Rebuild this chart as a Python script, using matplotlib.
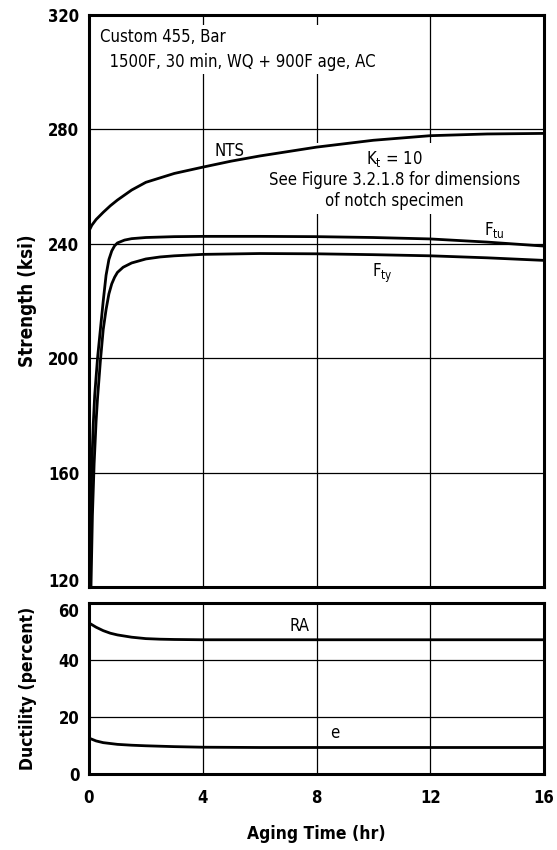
import matplotlib
matplotlib.use("Agg")
import matplotlib.pyplot as plt
from matplotlib import font_manager as fm

entries = fm.fontManager.ttflist
names = {f.name for f in entries}
STRETCH = "normal"
if "Liberation Sans Narrow" in names:
    FONT = "Liberation Sans Narrow"
elif any(f.name == "DejaVu Sans" and f.stretch in ("condensed", 300) for f in entries):
    FONT = "DejaVu Sans"
    STRETCH = "condensed"
else:
    FONT = "Liberation Sans"
plt.rcParams["font.family"] = [FONT, "DejaVu Sans"]
plt.rcParams["font.stretch"] = STRETCH
plt.rcParams["mathtext.fontset"] = "custom"
plt.rcParams["mathtext.rm"] = FONT
plt.rcParams["mathtext.it"] = FONT
plt.rcParams["mathtext.default"] = "rm"

# ---- data ----
nts_t = [0.0, 0.1, 0.25, 0.5, 0.75, 1.0, 1.5, 2.0, 3.0, 4.0, 5.0, 6.0, 8.0, 10.0, 12.0, 14.0, 16.0]
nts_v = [244.5, 246.5, 248.5, 251.0, 253.3, 255.3, 258.8, 261.5, 264.6, 266.8, 268.9, 270.7, 273.8, 276.2, 277.8, 278.4, 278.6]

ftu_t = [0.03, 0.06, 0.1, 0.15, 0.2, 0.3, 0.4, 0.5, 0.6, 0.7, 0.8, 0.9, 1.0, 1.25, 1.5, 2.0, 3.0, 4.0, 6.0, 8.0, 10.0, 12.0, 14.0, 16.0]
ftu_v = [120.0, 145.0, 163.0, 177.0, 187.0, 200.0, 210.0, 220.0, 229.0, 234.5, 237.5, 239.3, 240.3, 241.3, 241.8, 242.2, 242.5, 242.6, 242.6, 242.5, 242.2, 241.7, 240.6, 239.2]

fty_t = [0.07, 0.12, 0.18, 0.25, 0.3, 0.4, 0.5, 0.6, 0.7, 0.8, 0.9, 1.0, 1.2, 1.5, 2.0, 2.5, 3.0, 4.0, 6.0, 8.0, 10.0, 12.0, 14.0, 16.0]
fty_v = [120.0, 145.0, 163.0, 178.0, 186.0, 199.0, 210.0, 217.0, 222.5, 226.0, 228.3, 230.0, 231.8, 233.3, 234.7, 235.4, 235.8, 236.3, 236.6, 236.5, 236.2, 235.8, 235.1, 234.2]

ra_t = [0.0, 0.0, 0.25, 0.5, 0.75, 1.0, 1.5, 2.0, 2.5, 3.0, 4.0, 8.0, 12.0, 16.0]
ra_v = [45.0, 53.0, 51.5, 50.3, 49.4, 48.8, 48.0, 47.5, 47.3, 47.2, 47.1, 47.1, 47.1, 47.1]

e_t = [0.0, 0.0, 0.25, 0.5, 1.0, 1.5, 2.0, 3.0, 4.0, 6.0, 8.0, 12.0, 16.0]
e_v = [11.0, 12.6, 11.6, 11.0, 10.4, 10.1, 9.9, 9.6, 9.4, 9.3, 9.3, 9.3, 9.3]

x_ticks = [0, 4, 8, 12, 16]
str_ticks = [120, 160, 200, 240, 280, 320]
duc_ticks = [0, 20, 40, 60]

fig = plt.figure(figsize=(5.57, 8.5), dpi=100)
ax1 = fig.add_axes([89/557, 1-587/850, 455/557, 572/850])
ax2 = fig.add_axes([89/557, 1-774/850, 455/557, 171/850])

TS = 12
for ax, yt, ylim in ((ax1, str_ticks, (120, 320)), (ax2, duc_ticks, (0, 60))):
    ax.set_xlim(0, 16)
    ax.set_ylim(*ylim)
    ax.set_xticks(x_ticks)
    ax.set_yticks(yt)
    ax.tick_params(axis="y", length=0, labelsize=TS, pad=7)
    ax.tick_params(axis="x", length=0, labelsize=TS, pad=11)
    for lab in ax.get_xticklabels() + ax.get_yticklabels():
        lab.set_fontweight("semibold")
    for s in ax.spines.values():
        s.set_linewidth(2.2)
        s.set_zorder(5)
    for v in x_ticks[1:-1]:
        ax.axvline(v, color="black", lw=0.9, zorder=0)
    for v in yt[1:-1]:
        ax.axhline(v, color="black", lw=0.9, zorder=0)

ax1.tick_params(labelbottom=False)
# keep the two stacked end labels (120 and 60) apart, as in the reference
ax1.get_yticklabels()[0].set_verticalalignment("baseline")
ax2.get_yticklabels()[-1].set_verticalalignment("top")

lw = 2.0
ax1.plot(nts_t, nts_v, color="black", lw=lw, zorder=4, solid_capstyle="butt")
ax1.plot(ftu_t, ftu_v, color="black", lw=lw, zorder=4, solid_capstyle="butt")
ax1.plot(fty_t, fty_v, color="black", lw=lw, zorder=4, solid_capstyle="butt")
ax2.plot(ra_t, ra_v, color="black", lw=lw, zorder=4, solid_capstyle="butt")
ax2.plot(e_t, e_v, color="black", lw=lw, zorder=4, solid_capstyle="butt")

wb = dict(facecolor="white", edgecolor="none", pad=2.5)
fs = 12
ax1.text(0.4, 315.3, "Custom 455, Bar\n  1500F, 30 min, WQ + 900F age, AC", fontsize=fs,
         ha="left", va="top", linespacing=1.45, bbox=wb, zorder=2)
ax1.text(4.95, 272.5, "NTS", fontsize=fs, ha="center", va="center", bbox=wb, zorder=2)
ax1.text(10.75, 273.3, "K$_t$ = 10\nSee Figure 3.2.1.8 for dimensions\nof notch specimen",
         fontsize=fs, ha="center", va="top", linespacing=1.2, multialignment="center",
         bbox=dict(facecolor="white", edgecolor="none", pad=3), zorder=2)
ax1.text(14.25, 245.0, "F$_{tu}$", fontsize=fs, ha="center", va="center", zorder=2)
ax1.text(10.3, 229.8, "F$_{ty}$", fontsize=fs, ha="center", va="center", zorder=2)
ax2.text(7.4, 52.0, "RA", fontsize=fs, ha="center", va="center", bbox=wb, zorder=2)
ax2.text(8.65, 14.5, "e", fontsize=fs, ha="center", va="center", zorder=2)

ax1.set_ylabel("Strength (ksi)", fontsize=13.5, fontweight="bold")
ax2.set_ylabel("Ductility (percent)", fontsize=12.5, fontweight="bold")
ax2.set_xlabel("Aging Time (hr)", fontsize=12.5, fontweight="bold")
ax1.yaxis.set_label_coords(-0.115, 0.5)
ax2.yaxis.set_label_coords(-0.115, 0.5)
ax2.xaxis.set_label_coords(0.5, -0.30)

fig.savefig("out.png", dpi=100)
